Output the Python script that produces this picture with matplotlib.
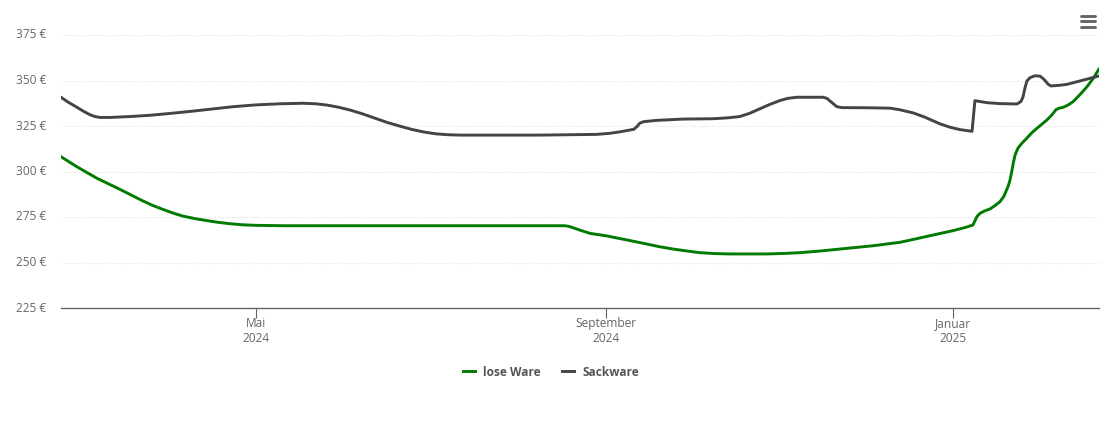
import matplotlib
matplotlib.use("Agg")
import matplotlib.pyplot as plt
import pandas as pd
from matplotlib.lines import Line2D
from matplotlib.transforms import ScaledTranslation

# days counted from 2024-05-01, prices in euro
lose_days = [-68.5, -62.9, -55.9, -47.8, -39.7, -36.2, -32.7, -29.2, -25.7, -21.4, -17.2, -13.4, -9.1, -4.6,
             0.4, 10.2, 33, 108.6, 110, 111.4, 113.8, 117.4, 123.3, 135, 142, 146.5, 151.5, 156, 161.2,
             166.6, 179.6, 185.9, 191.1, 198.2, 205.2, 216.8, 226.3, 231.6, 237.9, 244.9, 249.1, 251.9,
             252.6, 253.3, 254.4, 256.1, 257.9, 259.6, 261.4, 262.8, 264.2, 264.9, 265.6, 266.2, 266.7,
             267.7, 269.1, 273, 277.9, 279.7, 281.1, 282.2, 283.5, 285.3, 287.1, 289.5, 292, 294.1, 296.2]
lose_prices = [308.1, 302.6, 296.3, 290.2, 283.8, 281.3, 279.2, 277.2, 275.5, 274.1, 273, 272.1, 271.3, 270.7,
               270.4, 270.2, 270.2, 270.2, 269.8, 269.1, 267.8, 266, 264.6, 260.9, 258.6, 257.4, 256.3, 255.4, 254.9,
               254.7, 254.7, 255, 255.4, 256.3, 257.4, 259.2, 261.1, 262.9, 265.1, 267.5, 269.2, 270.6,
               272.8, 275.2, 277, 278.4, 279.4, 281.2, 283.4, 286.4, 291.6, 295, 300.5, 305.5, 309,
               312.8, 315.5, 321.9, 328.3, 331.2, 334, 334.8, 335.2, 336.5, 338.4, 342.2, 346.6, 351, 356.3]

sack_days = [-68.5, -66.1, -62.9, -60.4, -58.3, -56.6, -54.8, -51.3, -44.3, -37.2, -30.2, -23.2, -16.2, -8.1,
             0, 8.4, 16.5, 21.1, 24.9, 28.8, 33, 37.2, 41.8, 46.4, 50.6, 54.8, 59, 63.2, 67.5, 71.7, 99.8,
             119.8, 124.4, 127.9, 132.8, 133.9, 134.9, 136.3, 140.9, 150, 160.6, 165.9, 170, 173.5, 177.1,
             180.6, 184.1, 186.9, 190.1, 199.2, 200.6, 202.4, 204.1, 205.9, 215.7, 222.8, 226.3, 230.9,
             235.1, 240.3, 243.9, 247.4, 251.6, 252.6, 256.9, 261.4, 267.4, 268.8, 269.5, 270.2, 270.9,
             272, 273.7, 275.5, 276.9, 278.3, 279.3, 282.5, 285, 290.6, 296.2]
sack_prices = [340.8, 338.2, 335.3, 332.9, 331.2, 330.2, 329.7, 329.7, 330.2, 330.9, 331.9, 333, 334.2, 335.6,
               336.6, 337.2, 337.5, 337.2, 336.5, 335.4, 333.8, 331.8, 329.3, 326.8, 324.9, 323.1, 321.7, 320.7, 320.2, 320, 320,
               320.4, 321, 321.8, 323.2, 324.8, 326.6, 327.4, 328.1, 328.8, 329, 329.5, 330.2, 332, 334.5,
               336.9, 339, 340.2, 340.8, 340.8, 340.2, 337.8, 335.6, 335.1, 335, 334.8, 333.9, 332.2,
               329.8, 326.2, 324.3, 323, 322.1, 338.9, 337.8, 337.3, 337.1, 338.5, 341, 346, 349.8,
               351.6, 352.6, 352.4, 350.6, 348, 347, 347.4, 347.9, 350.2, 352.5]

y_ticks = [225, 250, 275, 300, 325, 350, 375]
x_tick_dates = ["2024-05-01", "2024-09-01", "2025-01-01"]
x_tick_labels = ["Mai\n2024", "September\n2024", "Januar\n2025"]

plt.rcParams["font.family"] = ["Open Sans", "DejaVu Sans"]

start = pd.Timestamp("2024-05-01")


def to_dates(days):
    return start + pd.to_timedelta(days, unit="D")


W, H = 1110, 422
fig = plt.figure(figsize=(W / 100, H / 100), dpi=100)
ax = fig.add_axes([61 / W, 1 - 308 / H, (1099 - 61) / W, (308 - 35) / H])

# clipped at the plot edge like the original
ax.plot(to_dates(lose_days), lose_prices, color="#007a00", lw=2.1, label="lose Ware",
        solid_joinstyle="round")
ax.plot(to_dates(sack_days), sack_prices, color="#434348", lw=2.1, label="Sackware",
        solid_joinstyle="round")

ax.set_xlim(to_dates([-68.5])[0], to_dates([296.2])[0])
ax.set_ylim(225, 375)

ax.set_yticks(y_ticks)
ax.set_yticklabels([f"{v} €" for v in y_ticks], color="#666666", fontsize=8.6)
ax.tick_params(axis="y", length=0, pad=10.5)
# labels sit a little above their gridlines
for label in ax.get_yticklabels():
    label.set_transform(label.get_transform() + ScaledTranslation(0, 1.5 / 100, fig.dpi_scale_trans))
ax.set_xticks(pd.to_datetime(x_tick_dates))
ax.set_xticklabels(x_tick_labels, color="#666666", fontsize=8.6, linespacing=1.15)
ax.tick_params(axis="x", length=7.2, width=0.8, color="#666666", pad=-0.5)

ax.grid(axis="y", color="#e0e0e0", linestyle=":", linewidth=0.8)
ax.set_axisbelow(True)
for side in ["top", "left", "right"]:
    ax.spines[side].set_visible(False)
ax.spines["bottom"].set_color("#666666")
ax.spines["bottom"].set_linewidth(1.0)

fig.legend(loc="center", bbox_to_anchor=(551 / W, 1 - 372 / H), ncols=2, frameon=False,
           prop={"size": 8.6, "weight": "bold"}, labelcolor="#555555",
           handlelength=1.0, handletextpad=0.7, columnspacing=1.75)

# menu icon in the corner
for py in [16, 21, 26.5]:
    fig.add_artist(Line2D([1081 / W, 1095 / W], [1 - py / H, 1 - py / H], color="#666666",
                          lw=2.1, solid_capstyle="round"))

fig.savefig("out.png", dpi=100)
